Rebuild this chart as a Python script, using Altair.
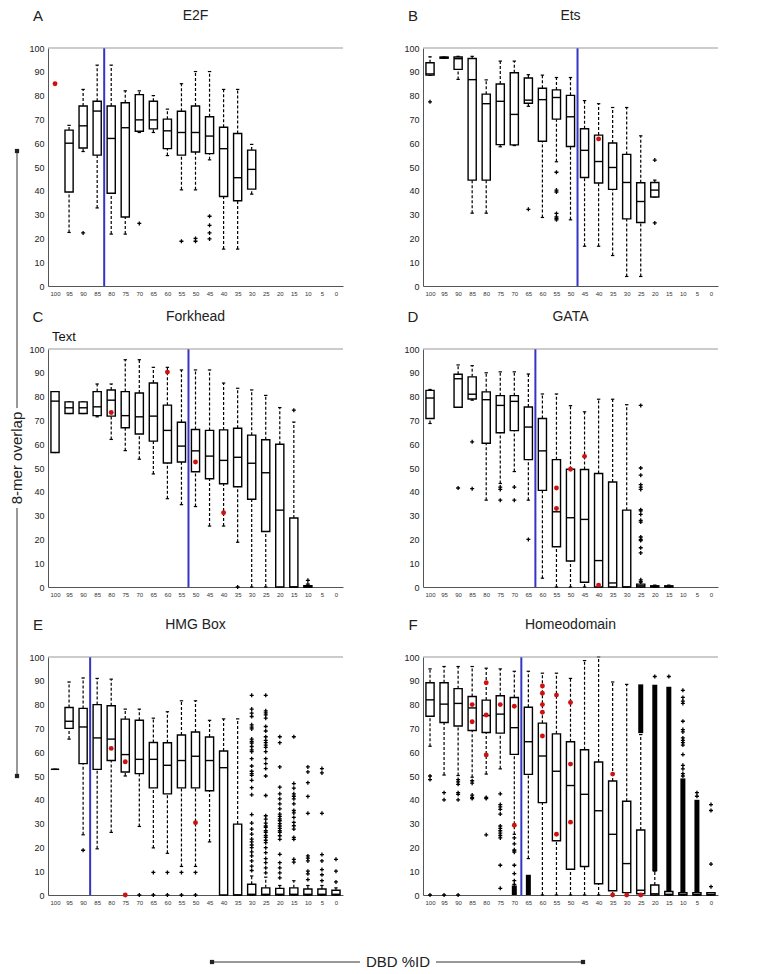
import altair as alt
import pandas as pd

# ---------------- layout constants ----------------
W, H = 295, 238
HALF = 1.45     # half box width (data units)
CAP = 0.6       # half whisker-cap width (data units)
PLUS = "M-1,0L1,0M0,-1L0,1"
FONT = "Liberation Sans"
TICKS_X = list(range(100, -1, -5))
TICKS_Y = list(range(0, 101, 10))

# ---------------- A : E2F ----------------
A_cat = [95, 90, 85, 80, 75, 70, 65, 60, 55, 50, 45, 40, 35, 30]
A_q1 = [39.5, 58, 55, 39, 29, 65, 66, 57.7, 55, 56.3, 55.6, 37.6, 35.8, 40.7]
A_med = [60, 67.3, 73.5, 62, 66.5, 69.8, 69.8, 65.2, 64.5, 64.5, 63, 57.7, 45.5, 49]
A_q3 = [65.5, 75.6, 77.6, 75.6, 77, 80.4, 77.6, 70.1, 73.4, 75.6, 71.1, 66.7, 64.1, 57.1]
A_lo = [22.5, 56.5, 32.8, 21.8, 21.8, 64.5, 64.5, 54.8, 40.4, 40.4, 53, 15.5, 15.5, 38.6]
A_hi = [67.5, 82.6, 92.8, 92.8, 82, 82, 80, 74.3, 85, 90.1, 90.1, 82.6, 82.6, 59.5]
A_out_c = [90, 70, 55, 50, 50, 45, 45, 45, 45]
A_out_v = [22.3, 26.3, 18.8, 18.8, 20, 29.3, 25.5, 22.3, 19.8]
A_red_c = [100]
A_red_v = [85]
A_cut = 82.5

# ---------------- B : Ets ----------------
B_cat = [100, 95, 90, 85, 80, 75, 70, 65, 60, 55, 50, 45, 40, 35, 30, 25, 20]
B_q1 = [88.6, 95.7, 91, 44.5, 44.5, 59.4, 59.3, 76.8, 60.8, 70.1, 58.6, 45.6, 43.3, 40.6, 28.2, 26.7, 37.4]
B_med = [89.1, 96, 95.5, 86.7, 76.6, 77.6, 72.1, 78.1, 78.3, 79.2, 71.1, 57, 52.3, 49.8, 43.5, 35.5, 40.3]
B_q3 = [93.8, 96.2, 96.2, 95.6, 80.6, 84.9, 89.6, 87.4, 83.1, 82.4, 80.1, 66.1, 63.4, 60.1, 55.3, 43.4, 43.5]
B_lo = [88.5, 95.7, 86.8, 30.6, 30.6, 58.5, 59, 75.5, 28.8, 52.2, 27.8, 16.7, 16.7, 12.8, 4, 4, 37.4]
B_hi = [96.3, 96.2, 96.5, 96.5, 86.6, 94.5, 94.5, 88.8, 88.6, 87.6, 87.6, 77.9, 76.6, 75, 75, 63.1, 44.5]
B_out_c = [100, 65, 55, 55, 55, 55, 55, 55, 55, 20, 20]
B_out_v = [77.4, 32.2, 47.8, 40.3, 39.5, 30.5, 29, 28.3, 27.8, 52.9, 26.5]
B_red_c = [40]
B_red_v = [61.8]
B_cut = 47.5

# ---------------- C : Forkhead ----------------
C_cat = [100, 95, 90, 85, 80, 75, 70, 65, 60, 55, 50, 45, 40, 35, 30, 25, 20, 15, 10]
C_q1 = [56.5, 72.9, 72.9, 72, 71.8, 66.9, 64.3, 61.3, 52.1, 52.5, 48.4, 45.5, 43.4, 42.1, 36.9, 23.3, 0, 0, 0]
C_med = [78.1, 75.3, 75.3, 75.7, 78.5, 72, 71.5, 71.8, 65.8, 59.2, 57.2, 55, 53.2, 54.5, 52, 48, 32.3, 0, 0]
C_q3 = [82.1, 77.8, 77.8, 82.1, 82.8, 82.1, 81.5, 85.7, 76.4, 69.2, 66.2, 65.8, 66, 66.7, 63.8, 61.9, 60, 29, 0.5]
C_lo = [56.5, 72.9, 72.9, 71.5, 62, 57.3, 53.7, 47.5, 37.1, 34.6, 33.8, 25.6, 25.6, 18.8, 0, 0, 0, 0, 0]
C_hi = [82.1, 77.8, 77.8, 85.3, 85.3, 95.5, 95.5, 92.3, 92.3, 91.2, 91.2, 91.2, 85.7, 83.5, 82.8, 80.5, 75.4, 69.3, 0.5]
C_out_c = [35, 15, 10, 10]
C_out_v = [0, 74.3, 1.2, 2.8]
C_red_c = [80, 60, 50, 40]
C_red_v = [73.3, 90.3, 52.5, 31.2]
C_cut = 52.5

# ---------------- D : GATA ----------------
D_cat = [100, 90, 85, 80, 75, 70, 65, 60, 55, 50, 45, 40, 35, 30, 25, 20, 15]
D_q1 = [70.8, 75.5, 79, 60.4, 64.8, 65.7, 53.5, 40.6, 16.9, 10.9, 2, 0, 0, 0, 0, 0, 0]
D_med = [79.4, 87.5, 81, 78.7, 76.3, 78, 67.2, 57.2, 31.6, 29.1, 28.4, 11.1, 1.7, 0, 0.5, 0.2, 0.2]
D_q3 = [82.6, 89.4, 88.3, 82, 80.4, 80.4, 75.6, 70.8, 53.5, 49.5, 49.4, 47.7, 44.1, 32.3, 1.2, 0.5, 0.5]
D_lo = [68.7, 75.5, 78.5, 36.5, 43.5, 48.5, 36.5, 3.7, 0, 0, 0, 0, 0, 0, 0, 0, 0]
D_hi = [83, 93.3, 93, 90, 90.4, 90.4, 89.5, 81.1, 81.1, 76.2, 73.6, 78.9, 78.9, 76.6, 2, 0.8, 0.8]
D_out_25 = [76.3, 50, 47, 43, 42, 41, 32.5, 32, 30.5, 28, 27.3, 21, 20, 19.5, 16.5, 14.3, 3, 2.3]
D_out_c = [90, 85, 85, 75, 75, 75, 70, 70, 65] + [25] * len(D_out_25)
D_out_v = [41.6, 61, 41.3, 42, 41, 36.5, 42, 36.5, 20] + D_out_25
D_red_c = [55, 55, 50, 45, 40]
D_red_v = [41.6, 33, 49.5, 54.9, 0.8]
D_cut = 62.5

# ---------------- E : HMG Box ----------------
E_cat = [100, 95, 90, 85, 80, 75, 70, 65, 60, 55, 50, 45, 40, 35, 30, 25, 20, 15, 10, 5, 0]
E_q1 = [52.8, 70, 55.2, 52.8, 56.5, 51.7, 51, 45, 42.5, 45, 45, 43.8, 0, 0, 0, 0, 0, 0, 0, 0, 0]
E_med = [52.8, 73, 70.6, 66, 65.5, 59, 57, 57, 54.5, 56.5, 58.3, 56.5, 53.5, 0, 0.3, 0.3, 0.3, 0.3, 0.3, 0.3, 0.3]
E_q3 = [52.8, 78.8, 78.4, 80, 79.5, 73.9, 73.4, 64.1, 64, 67.2, 68.5, 66.4, 60.5, 29.8, 4.5, 3, 2.8, 3, 2.5, 2.5, 2]
E_lo = [52.8, 65.5, 25.3, 19.4, 26.3, 50, 28.8, 19.8, 17.5, 12, 12, 22.3, 0, 0, 0, 0, 0, 0, 0, 0, 0]
E_hi = [52.8, 89.5, 91.2, 91, 90.7, 78.1, 78.1, 74.3, 77, 81.6, 81.6, 73.4, 74, 74, 8, 7.5, 4, 6, 4, 4, 3]
E_out_30 = [83.9, 78.1, 76.4, 75, 71.5, 70.5, 69.8, 65.5, 64.5, 63.8, 62.4, 61, 60.2, 57.3, 54.2, 52, 51,
            50.3, 48.2, 45.1, 42.1, 33.8, 30.2, 27.7, 25.6, 23.5, 22.3, 21, 19.9, 18.1, 16.4, 14.3, 12.1, 10.3]
E_out_25 = [83.9, 77.4, 76.5, 75.7, 74.3, 70.8, 68.9, 66.5, 65, 64, 63, 62, 60.2, 57.3, 55.2, 53.1, 50,
            41.8, 33.3, 31.9, 30.2, 29, 28.4, 27, 26.3, 25, 24.2, 23, 22, 19.9, 17.8, 15.3, 13.6, 11.4, 9.3]
E_out_20 = [66.5, 64, 53.8, 45.3, 42.5, 40.4, 38.3, 36.2, 34, 33, 32, 31.2, 30, 29, 28, 27, 26.3, 24.9,
            23.4, 17.1, 13.6, 11.4, 9.3, 7.2]
E_out_15 = [66.5, 46.8, 44.9, 42.5, 41.5, 40.4, 38.3, 35.5, 34.5, 32.6, 30.5, 29.1, 27.7, 24.2, 23.4, 15, 13.8]
E_out_10 = [53.8, 51.7, 47.2, 41.4, 34.3, 16.4, 15.5, 14.3, 10, 8.9, 6.5]
E_out_5 = [53.1, 51.3, 34.3, 17, 14.3, 10.7, 8.5, 6]
E_out_0 = [15, 10, 5.5]
E_out_c = ([90, 70, 65, 65, 60, 60, 55, 55, 50, 50] + [30] * len(E_out_30) + [25] * len(E_out_25)
           + [20] * len(E_out_20) + [15] * len(E_out_15) + [10] * len(E_out_10)
           + [5] * len(E_out_5) + [0] * len(E_out_0))
E_out_v = ([18.8, 0, 9.5, 0, 9.5, 0, 9.5, 0, 9.5, 0] + E_out_30 + E_out_25 + E_out_20 + E_out_15
           + E_out_10 + E_out_5 + E_out_0)
E_red_c = [80, 75, 75, 50]
E_red_v = [61.6, 56, 0, 30.4]
E_cut = 87.5

# ---------------- F : Homeodomain ----------------
F_cat = [100, 95, 90, 85, 80, 75, 70, 65, 60, 55, 50, 45, 40, 35, 30, 25, 20, 15, 10, 5, 0]
F_q1 = [75.1, 72.5, 71, 69.1, 68.3, 68, 59.1, 50.7, 38.8, 22.8, 10.8, 12, 4.7, 1.8, 1, 0.5, 0, 0, 0, 0, 0]
F_med = [82, 80.2, 80.5, 78.6, 75.4, 76, 70.3, 64.4, 58.4, 52, 46, 42.3, 35.4, 25.5, 13.2, 2, 0.5, 0.3, 0.3, 0.3, 0.3]
F_q3 = [89.2, 89.2, 86.7, 83.4, 81.9, 83.7, 83, 78.9, 72.2, 67.7, 64.4, 61, 55.9, 47.9, 39.4, 27.3, 4.2, 1.5, 1, 1, 1]
F_lo = [62.5, 50.4, 50.2, 49.5, 50.8, 53, 25.5, 15.3, 0, 0, 0, 0, 0, 0, 0, 0, 0, 0, 0, 0, 0]
F_hi = [95, 96, 96, 96, 95.3, 95, 94, 94, 93.2, 93.2, 91, 98.5, 100, 89.5, 88.5, 67.4, 10, 1.5, 1, 1, 1]
F_out_75 = [42.5, 38, 37, 36, 34, 29, 28, 27, 26, 25, 24, 12.5, 2.8]
F_out_70 = [24, 21.5, 19, 18.5, 18, 12.5, 9, 6, 4.5]
F_out_10 = [86, 83, 81.5, 80.5, 73, 69.5, 68.5, 66, 65, 64, 63, 59, 54.5, 53, 51, 50]
F_out_c = ([100, 100, 100, 95, 95, 95, 90, 90, 90, 90, 90, 90, 90, 85, 85, 85, 85, 85, 80, 80, 80]
           + [75] * len(F_out_75) + [70] * len(F_out_70) + [20, 15] + [10] * len(F_out_10)
           + [5, 5, 0, 0, 0, 0])
F_out_v = ([50, 48.5, 0, 43, 40, 0, 48.5, 47.5, 46.5, 43, 42.3, 40, 0, 48, 47, 42, 41, 40.5, 41, 40.5, 25.3]
           + F_out_75 + F_out_70 + [91.8, 91.8] + F_out_10 + [43, 41.5, 38, 35.5, 13, 3.5])
F_band_c = [70, 65, 25, 20, 15, 10, 5]
F_band_lo = [0, 0, 68, 10, 1.5, 1, 1]
F_band_hi = [4, 8.5, 88.5, 88.3, 87.5, 49, 40]
F_red_c = [85, 85, 80, 80, 80, 75, 70, 70, 60, 60, 60, 60, 60, 55, 55, 50, 50, 50, 35, 35, 30, 25]
F_red_v = [80, 72.8, 89.2, 75.6, 58.8, 80, 79.3, 29.3, 87.8, 84.8, 80, 76.8, 66.8, 84, 25.5, 80.9, 55, 30.6,
           50.8, 0, 0, 0]
F_cut = 67.5

# ---------------- chart helpers ----------------
xs = alt.Scale(domain=[-2.5, 102.5], reverse=True, nice=False, zero=False)
ys = alt.Scale(domain=[0, 100], nice=False, zero=False)
xax = alt.Axis(values=TICKS_X, format="d", title=None, labelFontSize=6, labelColor="#333",
               ticks=False, grid=False, domainColor="#555", labelPadding=4,
               labelFlush=False, labelOverlap=False, labelAngle=0)
yax = alt.Axis(values=TICKS_Y, format="d", title=None, labelFontSize=9, labelColor="#222",
               ticks=False, grid=False, domainColor="#555", labelPadding=4)


def X(f):
    return alt.X(f, type="quantitative", scale=xs, axis=xax)


def Y(f):
    return alt.Y(f, type="quantitative", scale=ys, axis=yax)


def one(**kw):
    return alt.Chart(pd.DataFrame({"k": [0], **{k: [v] for k, v in kw.items()}}))


def panel(letter, title, cats, q1, med, q3, lo, hi, oc, ov, rc, rv, cut,
          band=None, extras=()):
    d = pd.DataFrame({"c": cats, "q1": q1, "med": med, "q3": q3, "lo": lo, "hi": hi})
    d["bl"] = d["c"] - HALF
    d["br"] = d["c"] + HALF
    d["cl"] = d["c"] - CAP
    d["cr"] = d["c"] + CAP
    base = alt.Chart(d)
    dash = dict(color="black", strokeWidth=1.2, strokeDash=[3, 2])
    layers = [
        base.mark_rule(**dash).encode(x=X("c"), y=Y("q3"), y2="hi:Q"),
        base.mark_rule(**dash).encode(x=X("c"), y=Y("lo"), y2="q1:Q"),
        base.mark_rule(color="black", strokeWidth=1.2).encode(x=X("cl"), x2="cr:Q", y=Y("hi")),
        base.mark_rule(color="black", strokeWidth=1.2).encode(x=X("cl"), x2="cr:Q", y=Y("lo")),
        base.mark_rect(fill="white", stroke="black", strokeWidth=1.4).encode(
            x=X("bl"), x2="br:Q", y=Y("q1"), y2="q3:Q"),
        base.mark_rule(color="black", strokeWidth=1.4).encode(x=X("bl"), x2="br:Q", y=Y("med")),
    ]
    if band is not None:
        bd = pd.DataFrame({"c": band[0], "lo": band[1], "hi": band[2]})
        layers.append(alt.Chart(bd).mark_rule(color="black", strokeWidth=5).encode(
            x=X("c"), y=Y("lo"), y2="hi:Q"))
    od = pd.DataFrame({"c": oc, "v": ov})
    layers.append(alt.Chart(od).mark_point(shape=PLUS, size=16, filled=False, color="black",
                                           strokeWidth=1.3, opacity=1).encode(x=X("c"), y=Y("v")))
    layers.append(one(c=cut).mark_rule(color="#3434c8", strokeWidth=2).encode(
        x=X("c"), y=alt.value(0), y2=alt.value(H)))
    rd = pd.DataFrame({"c": rc, "v": rv})
    layers.append(alt.Chart(rd).mark_circle(color="#cc1111", size=24, opacity=1).encode(
        x=X("c"), y=Y("v")))
    layers.append(one().mark_rule(color="#999999", strokeWidth=1).encode(
        x=alt.value(0), x2=alt.value(W), y=alt.value(0)))
    layers.append(one(t=title).mark_text(fontSize=14, color="#222", align="center",
                                         baseline="middle").encode(
        text="t:N", x=alt.value(W / 2), y=alt.value(-32)))
    layers.append(one(t=letter).mark_text(fontSize=15, color="#222", align="center",
                                          baseline="middle").encode(
        text="t:N", x=alt.value(-10), y=alt.value(-32)))
    layers.extend(extras)
    return alt.layer(*layers).properties(width=W, height=H)


text_lbl = [one(t="Text").mark_text(fontSize=13, color="#111", align="left", baseline="bottom").encode(
    text="t:N", x=alt.value(4), y=alt.value(-5))]

pA = panel("A", "E2F", A_cat, A_q1, A_med, A_q3, A_lo, A_hi, A_out_c, A_out_v, A_red_c, A_red_v, A_cut)
pB = panel("B", "Ets", B_cat, B_q1, B_med, B_q3, B_lo, B_hi, B_out_c, B_out_v, B_red_c, B_red_v, B_cut)
pC = panel("C", "Forkhead", C_cat, C_q1, C_med, C_q3, C_lo, C_hi, C_out_c, C_out_v, C_red_c, C_red_v,
           C_cut, extras=text_lbl)
pD = panel("D", "GATA", D_cat, D_q1, D_med, D_q3, D_lo, D_hi, D_out_c, D_out_v, D_red_c, D_red_v, D_cut)
pE = panel("E", "HMG Box", E_cat, E_q1, E_med, E_q3, E_lo, E_hi, E_out_c, E_out_v, E_red_c, E_red_v, E_cut)
pF = panel("F", "Homeodomain", F_cat, F_q1, F_med, F_q3, F_lo, F_hi, F_out_c, F_out_v, F_red_c, F_red_v,
           F_cut, band=(F_band_c, F_band_lo, F_band_hi))

# ---------------- side strip: "8-mer overlap" ----------------
SY0, SY1, SYC = 103, 728, 410
side = alt.layer(
    one().mark_rule(color="#333", strokeWidth=1).encode(x=alt.value(0), y=alt.value(SY0), y2=alt.value(SYC - 50)),
    one().mark_rule(color="#333", strokeWidth=1).encode(x=alt.value(0), y=alt.value(SYC + 50), y2=alt.value(SY1)),
    one().mark_square(color="#222", size=18, opacity=1).encode(x=alt.value(0), y=alt.value(SY0)),
    one().mark_square(color="#222", size=18, opacity=1).encode(x=alt.value(0), y=alt.value(SY1)),
    one(t="8-mer overlap").mark_text(angle=270, fontSize=15, color="#222", align="center",
                                     baseline="middle").encode(
        text="t:N", x=alt.value(0), y=alt.value(SYC)),
).properties(width=1, height=730)

# ---------------- bottom strip: "DBD %ID" ----------------
BY, BX0, BX1, BXC = 36, 164, 535, 350
bottom = alt.layer(
    one().mark_rule(color="#333", strokeWidth=1).encode(x=alt.value(BX0), x2=alt.value(BXC - 38), y=alt.value(BY)),
    one().mark_rule(color="#333", strokeWidth=1).encode(x=alt.value(BXC + 38), x2=alt.value(BX1), y=alt.value(BY)),
    one().mark_square(color="#222", size=18, opacity=1).encode(x=alt.value(BX0), y=alt.value(BY)),
    one().mark_square(color="#222", size=18, opacity=1).encode(x=alt.value(BX1), y=alt.value(BY)),
    one(t="DBD %ID").mark_text(fontSize=15, color="#222", align="center", baseline="middle").encode(
        text="t:N", x=alt.value(BXC), y=alt.value(BY)),
).properties(width=2 * W + 80, height=46)

rows = [alt.hconcat(a, b, spacing=80, bounds="flush") for a, b in [(pA, pB), (pC, pD), (pE, pF)]]
lower = alt.vconcat(rows[1], rows[2], bottom, spacing=21)
grid = alt.vconcat(rows[0], lower, spacing=14)
chart = alt.hconcat(side, grid, spacing=3).properties(
    padding={"left": 2, "top": 1, "right": 0, "bottom": 0}).configure(
    font=FONT).configure_view(stroke=None)

chart.save("out.html", embed_options={"renderer": "svg", "actions": False})
